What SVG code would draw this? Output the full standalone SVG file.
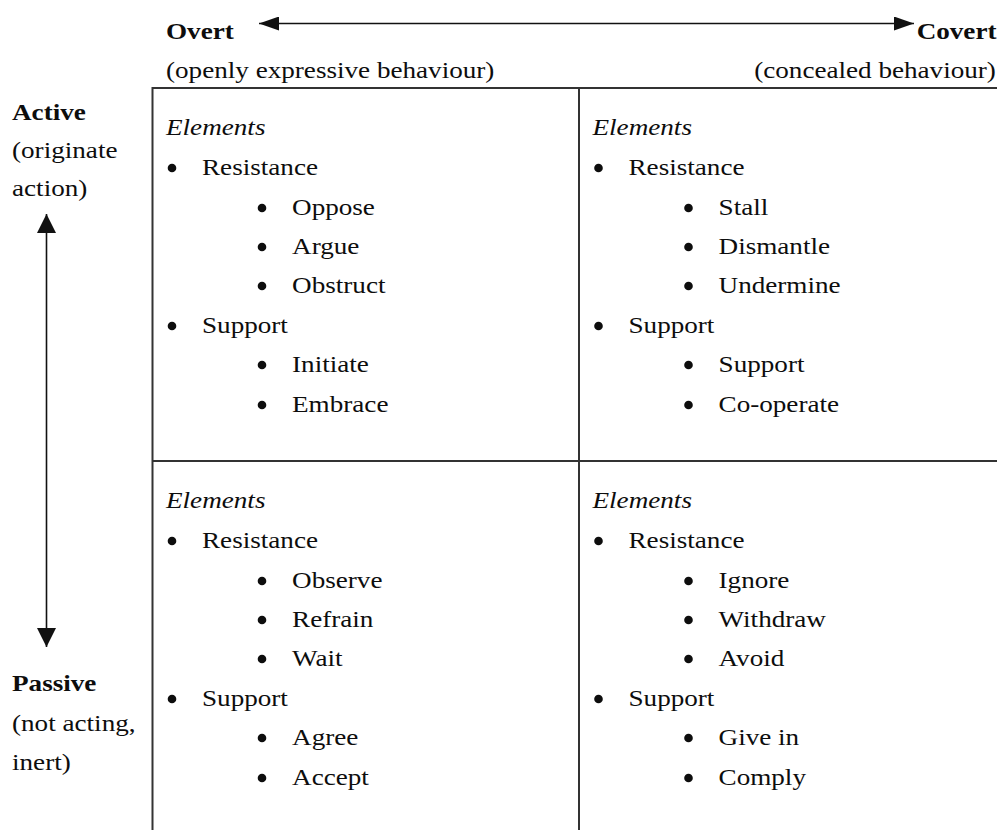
<svg xmlns="http://www.w3.org/2000/svg" width="997" height="830" viewBox="0 0 997 830">
<style>
text{font-family:"Liberation Serif","Times New Roman",serif;font-size:23px;fill:#0d0d0d}
.b{font-weight:bold}
.i{font-style:italic}
.e{text-anchor:end}
.grid{stroke:#333;stroke-width:2;fill:none}
.ax{stroke:#111;stroke-width:1.6;fill:none}
.dot{fill:#0d0d0d}
</style>
<defs>
<marker id="ah" viewBox="0 0 20 14" refX="20" refY="7" markerWidth="20" markerHeight="14" markerUnits="userSpaceOnUse" orient="auto-start-reverse">
<path d="M0,0 L20,7 L0,14 Z" fill="#111"/>
</marker>
<marker id="av" viewBox="0 0 19 19" refX="19" refY="9.5" markerWidth="19" markerHeight="19" markerUnits="userSpaceOnUse" orient="auto-start-reverse">
<path d="M0,0 L19,9.5 L0,19 Z" fill="#111"/>
</marker>
</defs>
<rect width="997" height="830" fill="#fff"/>

<g id="grid">
<line class="grid" x1="152" y1="88" x2="997" y2="88"/>
<line class="grid" x1="152" y1="461" x2="997" y2="461"/>
<line class="grid" x1="152.5" y1="87" x2="152.5" y2="830"/>
<line class="grid" x1="579" y1="87" x2="579" y2="830"/>
</g>

<g id="connectors">
<line class="ax" x1="259" y1="23.5" x2="914" y2="23.5" marker-start="url(#ah)" marker-end="url(#ah)"/>
<line class="ax" x1="46.5" y1="214" x2="46.5" y2="647" marker-start="url(#av)" marker-end="url(#av)"/>
</g>

<g id="overt">
<g transform="scale(1.18 1)">
<text class="b" x="140.7" y="39">Overt</text>
<text x="140.7" y="78">(openly expressive behaviour)</text>
</g>
</g>
<g id="covert">
<g transform="scale(1.18 1)">
<text class="b e" x="844.5" y="39">Covert</text>
<text class="e" x="844" y="78">(concealed behaviour)</text>
</g>
</g>
<g id="active">
<g transform="scale(1.18 1)">
<text class="b" x="10.2" y="120">Active</text>
<text x="10.2" y="158">(originate</text>
<text x="10.2" y="196">action)</text>
</g>
</g>
<g id="passive">
<g transform="scale(1.18 1)">
<text class="b" x="10.2" y="691">Passive</text>
<text x="10.2" y="731">(not acting,</text>
<text x="10.2" y="770">inert)</text>
</g>
</g>

<g id="q-overt-active">
<g transform="scale(1.18 1)">
<text class="i" x="140.7" y="135">Elements</text>
<text x="171.2" y="175">Resistance</text>
<text x="247.5" y="215">Oppose</text>
<text x="247.5" y="254">Argue</text>
<text x="247.5" y="293">Obstruct</text>
<text x="171.2" y="333">Support</text>
<text x="247.5" y="372">Initiate</text>
<text x="247.5" y="412">Embrace</text>
</g>
<circle class="dot" cx="172" cy="168" r="4.3"/>
<circle class="dot" cx="262" cy="208" r="4.3"/>
<circle class="dot" cx="262" cy="247" r="4.3"/>
<circle class="dot" cx="262" cy="286" r="4.3"/>
<circle class="dot" cx="172" cy="326" r="4.3"/>
<circle class="dot" cx="262" cy="365" r="4.3"/>
<circle class="dot" cx="262" cy="405" r="4.3"/>
</g>

<g id="q-covert-active" transform="translate(426.5 0)">
<g transform="scale(1.18 1)">
<text class="i" x="140.7" y="135">Elements</text>
<text x="171.2" y="175">Resistance</text>
<text x="247.5" y="215">Stall</text>
<text x="247.5" y="254">Dismantle</text>
<text x="247.5" y="293">Undermine</text>
<text x="171.2" y="333">Support</text>
<text x="247.5" y="372">Support</text>
<text x="247.5" y="412">Co-operate</text>
</g>
<circle class="dot" cx="172" cy="168" r="4.3"/>
<circle class="dot" cx="262" cy="208" r="4.3"/>
<circle class="dot" cx="262" cy="247" r="4.3"/>
<circle class="dot" cx="262" cy="286" r="4.3"/>
<circle class="dot" cx="172" cy="326" r="4.3"/>
<circle class="dot" cx="262" cy="365" r="4.3"/>
<circle class="dot" cx="262" cy="405" r="4.3"/>
</g>

<g id="q-overt-passive" transform="translate(0 373)">
<g transform="scale(1.18 1)">
<text class="i" x="140.7" y="135">Elements</text>
<text x="171.2" y="175">Resistance</text>
<text x="247.5" y="215">Observe</text>
<text x="247.5" y="254">Refrain</text>
<text x="247.5" y="293">Wait</text>
<text x="171.2" y="333">Support</text>
<text x="247.5" y="372">Agree</text>
<text x="247.5" y="412">Accept</text>
</g>
<circle class="dot" cx="172" cy="168" r="4.3"/>
<circle class="dot" cx="262" cy="208" r="4.3"/>
<circle class="dot" cx="262" cy="247" r="4.3"/>
<circle class="dot" cx="262" cy="286" r="4.3"/>
<circle class="dot" cx="172" cy="326" r="4.3"/>
<circle class="dot" cx="262" cy="365" r="4.3"/>
<circle class="dot" cx="262" cy="405" r="4.3"/>
</g>

<g id="q-covert-passive" transform="translate(426.5 373)">
<g transform="scale(1.18 1)">
<text class="i" x="140.7" y="135">Elements</text>
<text x="171.2" y="175">Resistance</text>
<text x="247.5" y="215">Ignore</text>
<text x="247.5" y="254">Withdraw</text>
<text x="247.5" y="293">Avoid</text>
<text x="171.2" y="333">Support</text>
<text x="247.5" y="372">Give in</text>
<text x="247.5" y="412">Comply</text>
</g>
<circle class="dot" cx="172" cy="168" r="4.3"/>
<circle class="dot" cx="262" cy="208" r="4.3"/>
<circle class="dot" cx="262" cy="247" r="4.3"/>
<circle class="dot" cx="262" cy="286" r="4.3"/>
<circle class="dot" cx="172" cy="326" r="4.3"/>
<circle class="dot" cx="262" cy="365" r="4.3"/>
<circle class="dot" cx="262" cy="405" r="4.3"/>
</g>
</svg>
